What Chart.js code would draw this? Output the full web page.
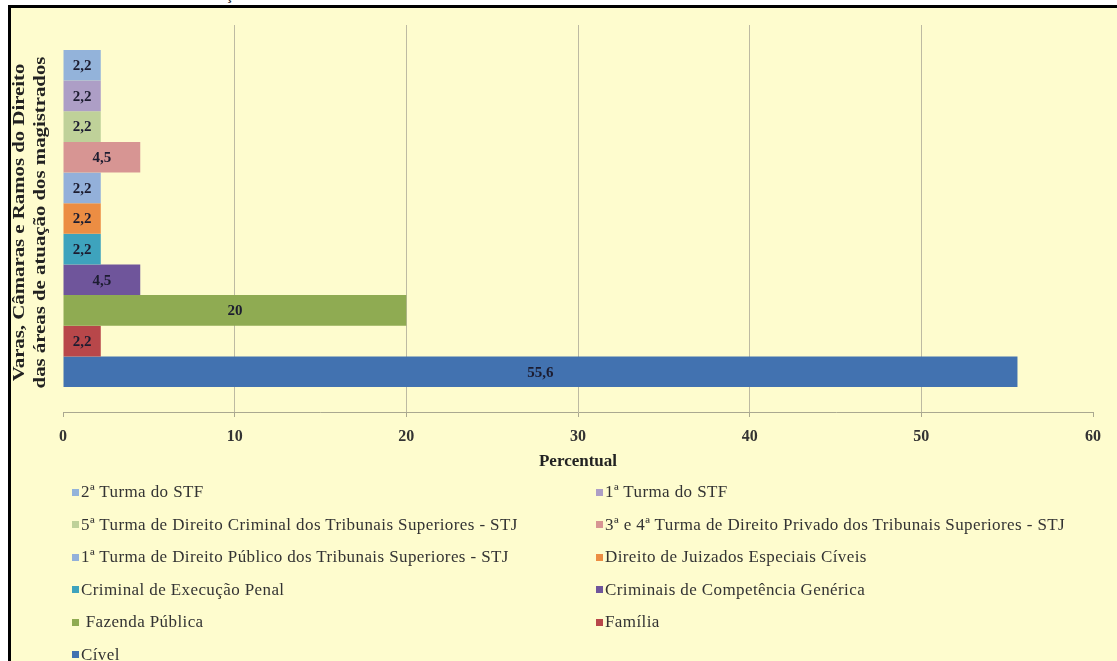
<!DOCTYPE html>
<html lang="pt">
<head>
<meta charset="utf-8">
<title>Varas, Câmaras e Ramos do Direito</title>
<script src="https://cdn.jsdelivr.net/npm/chart.js@4.4.0/dist/chart.umd.min.js"></script>
<style>
    html, body { margin: 0; padding: 0; background: #fff; }
    body {
        width: 1117px; height: 661px; position: relative; overflow: hidden;
        font-family: "Liberation Serif", "Times New Roman", serif;
    }
    .caption {
        position: absolute; left: 226px; top: -13px;
        font-weight: bold; font-size: 15px; color: #222;
    }
    .frame {
        position: absolute; left: 8px; top: 5px; right: 0; bottom: 0;
        border-left: 3px solid #000; border-top: 3px solid #000;
        background: #fefcce;
    }
    .chart-box { position: absolute; left: 0; top: 0; width: 1117px; height: 480px; }
    .legend {
        position: absolute; left: 72px; top: 476px;
        display: grid; grid-template-columns: 524px 500px; grid-auto-rows: 32.5px;
    }
    .legend-item {
        display: flex; align-items: center;
        font-size: 17px; letter-spacing: 0.4px; color: #333; white-space: pre;
    }
    .legend-swatch { width: 7px; height: 7px; margin-right: 2px; flex: none; }
</style>
</head>
<body>
<div class="caption">ção</div>
<div class="frame"></div>
<div class="chart-box"><canvas id="areasChart"></canvas></div>
<div class="legend" id="areasLegend"></div>

<script>
// One bar per area, top to bottom (same order as the legend)
const seriesNames = [
    '2ª Turma do STF',
    '1ª Turma do STF',
    '5ª Turma de Direito Criminal dos Tribunais Superiores - STJ',
    '3ª e 4ª Turma de Direito Privado dos Tribunais Superiores - STJ',
    '1ª Turma de Direito Público dos Tribunais Superiores - STJ',
    'Direito de Juizados Especiais Cíveis',
    'Criminal de Execução Penal',
    'Criminais de Competência Genérica',
    ' Fazenda Pública',
    'Família',
    'Cível'
];
const seriesValues = [2.2, 2.2, 2.2, 4.5, 2.2, 2.2, 2.2, 4.5, 20, 2.2, 55.6];
const seriesColors = [
    '#93b3da', '#ad9ec6', '#bfd199', '#d79593', '#93b0da', '#ec8d43',
    '#3ea3bd', '#6f559b', '#8fab52', '#b8474a', '#4272b0'
];
const xTicks = [0, 10, 20, 30, 40, 50, 60];
const yTitleLines = ['Varas, Câmaras e Ramos do Direito', 'das áreas de atuação dos magistrados'];

const serif = '"Liberation Serif", "Times New Roman", serif';

// value written in the middle of each bar, with a decimal comma
const barLabels = {
    id: 'barLabels',
    afterDatasetsDraw(chart) {
        const ctx = chart.ctx;
        ctx.save();
        ctx.font = 'bold 15px ' + serif;
        ctx.fillStyle = '#1c1c30';
        ctx.textAlign = 'center';
        ctx.textBaseline = 'middle';
        chart.data.datasets.forEach((ds, i) => {
            chart.getDatasetMeta(i).data.forEach((bar, j) => {
                const text = String(ds.data[j]).replace('.', ',');
                ctx.fillText(text, (bar.x + bar.base) / 2, bar.y + 1);
            });
        });
        ctx.restore();
    }
};

// rotated two-line title on the left, a bit wider than the plain font
const yTitle = {
    id: 'yTitle',
    afterDraw(chart) {
        const ctx = chart.ctx;
        const area = chart.chartArea;
        const cy = (area.top + area.bottom) / 2 + 4;
        ctx.save();
        ctx.font = 'bold 16px ' + serif;
        ctx.fillStyle = '#222';
        ctx.textAlign = 'center';
        ctx.textBaseline = 'middle';
        [20, 41].forEach((x, i) => {
            ctx.save();
            ctx.translate(x, cy);
            ctx.rotate(-Math.PI / 2);
            ctx.scale(1.3, 1);
            ctx.fillText(yTitleLines[i], 0, 0);
            ctx.restore();
        });
        ctx.restore();
    }
};

function buildLegend() {
    const box = document.getElementById('areasLegend');
    seriesNames.forEach((name, i) => {
        const item = document.createElement('div');
        item.className = 'legend-item';
        const sw = document.createElement('span');
        sw.className = 'legend-swatch';
        sw.style.background = seriesColors[i];
        item.appendChild(sw);
        item.appendChild(document.createTextNode(name));
        box.appendChild(item);
    });
}

function createChart() {
    const ctx = document.getElementById('areasChart').getContext('2d');

    new Chart(ctx, {
        type: 'bar',
        data: {
            labels: [''],
            datasets: seriesNames.map((name, i) => ({
                label: name.trim(),
                data: [seriesValues[i]],
                backgroundColor: seriesColors[i],
                borderWidth: 0,
                categoryPercentage: 0.871,
                barPercentage: 1
            }))
        },
        options: {
            indexAxis: 'y',
            responsive: true,
            maintainAspectRatio: false,
            animation: false,
            layout: {
                padding: { top: 25, right: 24, left: 0, bottom: 0 }
            },
            plugins: {
                legend: { display: false },
                tooltip: { enabled: false }
            },
            scales: {
                x: {
                    type: 'linear',
                    min: 0,
                    max: 60,
                    afterBuildTicks: (scale) => {
                        scale.ticks = xTicks.map(v => ({ value: v }));
                    },
                    afterFit: (scale) => { scale.height = 68; },
                    ticks: {
                        color: '#333',
                        padding: 10,
                        font: { family: serif, size: 16, weight: 'bold' }
                    },
                    grid: {
                        color: (c) => (c.tick && (c.tick.value === 0 || c.tick.value === 60))
                            ? 'rgba(0,0,0,0)' : '#bdbaa2',
                        tickColor: '#aaa890',
                        tickLength: 5,
                        lineWidth: 1
                    },
                    border: { color: '#aaa890' },
                    title: {
                        display: true,
                        text: 'Percentual',
                        color: '#222',
                        padding: { top: 0, bottom: 8 },
                        font: { family: serif, size: 17, weight: 'bold', lineHeight: 1.2 }
                    }
                },
                y: {
                    type: 'category',
                    afterFit: (scale) => { scale.width = 63; },
                    ticks: { display: false },
                    grid: { display: false },
                    border: { display: false }
                }
            }
        },
        plugins: [barLabels, yTitle]
    });
}

document.addEventListener('DOMContentLoaded', () => {
    buildLegend();
    createChart();
});
</script>
</body>
</html>
